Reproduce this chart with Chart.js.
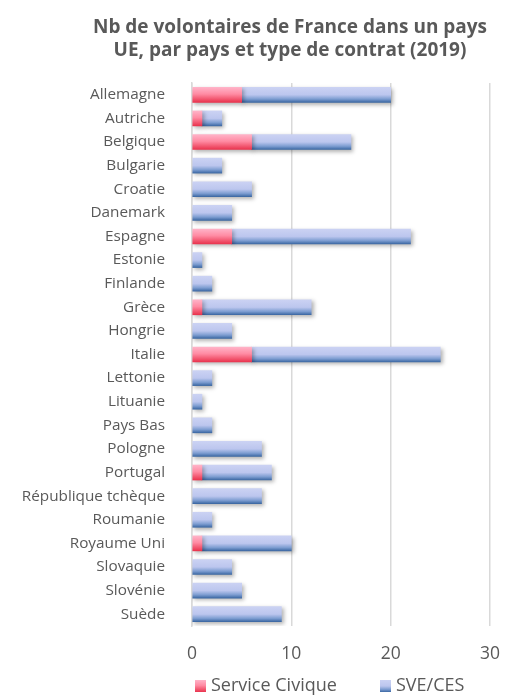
<!DOCTYPE html>
<html>
<head>
  <meta charset="UTF-8">
  <title>Volontaires de France dans l'UE</title>
  <script src="https://cdn.jsdelivr.net/npm/chart.js"></script>
  <style>
    body { margin: 0; background: #fff; }
    #wrap { width: 509px; height: 695px; }
  </style>
</head>
<body>
  <div id="wrap"><canvas id="chart"></canvas></div>
  <script>
    const pays = ['Allemagne', 'Autriche', 'Belgique', 'Bulgarie', 'Croatie', 'Danemark', 'Espagne',
      'Estonie', 'Finlande', 'Grèce', 'Hongrie', 'Italie', 'Lettonie', 'Lituanie', 'Pays Bas',
      'Pologne', 'Portugal', 'République tchèque', 'Roumanie', 'Royaume Uni', 'Slovaquie',
      'Slovénie', 'Suède'];
    const serviceCivique = [5, 1, 6, 0, 0, 0, 4, 0, 0, 1, 0, 6, 0, 0, 0, 0, 1, 0, 0, 1, 0, 0, 0];
    const sveCes = [15, 2, 10, 3, 6, 4, 18, 1, 2, 11, 4, 19, 2, 1, 2, 7, 7, 7, 2, 9, 4, 5, 9];
    const xTicks = [0, 10, 20, 30];
    const titre = ['Nb de volontaires de France dans un pays', 'UE, par pays et type de contrat (2019)'];

    const FONT = "'Open Sans', sans-serif";
    const BAR_H = 15;
    const stopsSC = [[0, '#ffb3c8'], [0.45, '#ff8ba3'], [1, '#e9344e']];
    const stopsSVE = [[0, '#cbd2f3'], [0.5, '#bcc6ee'], [0.78, '#7d9dd1'], [1, '#3c68a3']];

    function grad(ctx, y0, y1, stops) {
      const g = ctx.createLinearGradient(0, y0, 0, y1);
      stops.forEach(s => g.addColorStop(s[0], s[1]));
      return g;
    }

    function barFill(stops) {
      return function(c) {
        const y = c.chart.scales.y;
        if (c.type !== 'data' || !y) return stops[1][1];
        if (!c.raw) return 'rgba(0,0,0,0)';
        const yc = y.getPixelForValue(c.dataIndex);
        if (!isFinite(yc)) return stops[1][1];
        return grad(c.chart.ctx, yc - BAR_H / 2, yc + BAR_H / 2, stops);
      };
    }

    const extras = {
      id: 'extras',
      beforeDatasetsDraw(chart) {
        const ctx = chart.ctx;
        ctx.save();
        ctx.shadowColor = 'rgba(0,0,0,0.3)';
        ctx.shadowBlur = 4;
        ctx.shadowOffsetX = 2;
        ctx.shadowOffsetY = 2;
      },
      afterDatasetsDraw(chart) {
        chart.ctx.restore();
      },
      afterDraw(chart) {
        const ctx = chart.ctx;
        ctx.save();
        // titre
        ctx.fillStyle = '#595959';
        ctx.font = "bold 19px " + FONT;
        ctx.textAlign = 'center';
        ctx.textBaseline = 'middle';
        ctx.fillText(titre[0], 290, 28);
        ctx.fillText(titre[1], 290, 51);
        // légende
        ctx.font = "18px " + FONT;
        ctx.textAlign = 'left';
        const items = [['Service Civique', stopsSC, 195], ['SVE/CES', stopsSVE, 380]];
        items.forEach(it => {
          ctx.fillStyle = grad(ctx, 680, 692, it[1]);
          ctx.fillRect(it[2], 680, 11, 12);
          ctx.fillStyle = '#595959';
          ctx.fillText(it[0], it[2] + 16, 686);
        });
        ctx.restore();
      }
    };

    new Chart(document.getElementById('chart'), {
      type: 'bar',
      data: {
        labels: pays,
        datasets: [
          { label: 'Service Civique', data: serviceCivique, backgroundColor: barFill(stopsSC), barThickness: BAR_H },
          { label: 'SVE/CES', data: sveCes, backgroundColor: barFill(stopsSVE), barThickness: BAR_H }
        ]
      },
      options: {
        indexAxis: 'y',
        responsive: true,
        maintainAspectRatio: false,
        animation: false,
        layout: { padding: { top: 83, right: 19, bottom: 12, left: 0 } },
        plugins: {
          legend: { display: false },
          title: { display: false },
          tooltip: { enabled: false }
        },
        scales: {
          x: {
            stacked: true,
            min: 0,
            max: 30,
            afterBuildTicks: s => { s.ticks = xTicks.map(v => ({ value: v })); },
            afterFit: s => { s.paddingLeft = 0; s.paddingRight = 0; },
            grid: { color: '#d9d9d9', lineWidth: 1.5, drawTicks: false },
            border: { display: false },
            ticks: { color: '#595959', font: { family: FONT, size: 17.5 }, padding: 18, maxRotation: 0 }
          },
          y: {
            stacked: true,
            afterFit: s => { s.width = 192; },
            grid: { display: false, drawTicks: false },
            border: { color: '#d9d9d9', width: 1.5 },
            ticks: { color: '#595959', font: { family: FONT, size: 15.3 }, padding: 27, autoSkip: false }
          }
        }
      },
      plugins: [extras]
    });
  </script>
</body>
</html>
